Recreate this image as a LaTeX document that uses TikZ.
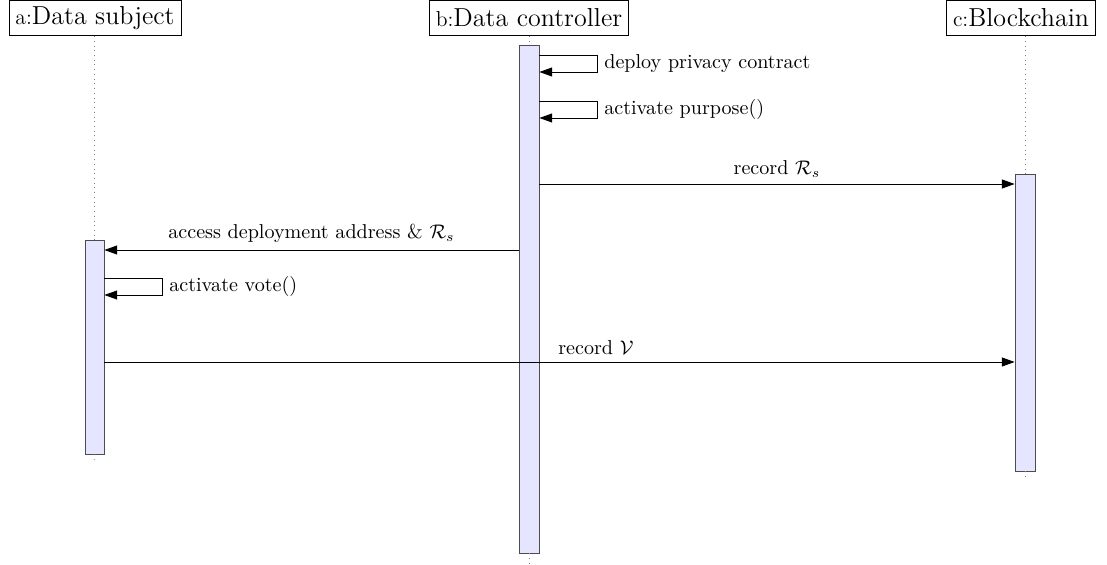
\documentclass[tikz,border=0pt]{standalone}
\usetikzlibrary{arrows.meta,fit}
\begin{document}
\begin{tikzpicture}[x=0.5076pt,y=-0.5076pt,
  inst/.style={draw,fill=white,inner xsep=3.3pt,inner ysep=2pt,minimum height=18pt,font=\fontsize{11}{13}\selectfont},
  bar/.style={draw=black!70,fill=blue!10,inner sep=0pt},
  life/.style={dotted,gray},
  msg/.style={-{Triangle[length=6.5pt,width=4.6pt]}},
  lbl/.style={font=\fontsize{10.2}{12}\selectfont}]
\useasboundingbox (0,0) rectangle (1107,565);
% instances
\node[inst] (ha) at (95,18) {a:{\fontsize{13.2}{16}\selectfont Data subject}};
\node[inst] (hb) at (529,18) {b:{\fontsize{13.2}{16}\selectfont Data controller}};
\node[inst] (hc) at (1021,18) {c:{\fontsize{13.2}{16}\selectfont Blockchain}};
% activation bars
\node[bar,fit={(519,45) (539,553)}] (bb) {};
\node[bar,fit={(85,240) (104,454)}] (ba) {};
\node[bar,fit={(1015,174) (1035,471)}] (bc) {};
% end points of lifelines
\coordinate (ea) at (94,462);
\coordinate (eb) at (529,565);
\coordinate (ec) at (1025,480);
% lifelines
\draw[life] (ha.south -| ba) -- (ba.north);
\draw[life] (ba.south) -- (ea);
\draw[life] (hb.south -| bb) -- (bb.north);
\draw[life] (bb.south) -- (eb);
\draw[life] (hc.south -| bc) -- (bc.north);
\draw[life] (bc.south) -- (ec);
% self calls on b
\draw[msg] (bb.east |- 0,55) -- ++(58,0) -- node[right,lbl]{deploy privacy contract} ++(0,17) -- (bb.east |- 0,72);
\draw[msg] (bb.east |- 0,101) -- ++(58,0) -- node[right,lbl]{activate purpose()} ++(0,17) -- (bb.east |- 0,118);
% messages
\draw[msg] (bb.east |- 0,184) -- node[above,lbl]{record $\mathcal{R}_s$} (bc.west |- 0,184);
\draw[msg] (bb.west |- 0,250) -- node[above,lbl]{access deployment address \& $\mathcal{R}_s$} (ba.east |- 0,250);
\draw[msg] (ba.east |- 0,278) -- ++(58,0) -- node[right,lbl]{activate vote()} ++(0,17) -- (ba.east |- 0,295);
\draw[msg] (ba.east |- 0,362) -- node[above,lbl,pos=0.54]{record $\mathcal{V}$} (bc.west |- 0,362);
\end{tikzpicture}
\end{document}
